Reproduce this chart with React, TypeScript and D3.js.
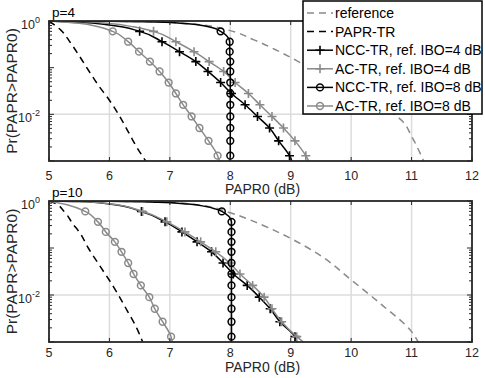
import * as d3 from "d3";

// probability levels where the simulated curves carry markers
const LEVELS = [0.6, 0.36, 0.22, 0.135, 0.083, 0.048, 0.028, 0.016, 0.009, 0.0051, 0.0027, 0.0013];
const X_TICKS = [5, 6, 7, 8, 9, 10, 11, 12];
const Y_LABELLED = [1, 0.01];
const Y_DECADES = [1, 0.1, 0.01, 0.001];
const LEGEND_NAMES = [
  "reference",
  "PAPR-TR",
  "NCC-TR, ref. IBO=4 dB",
  "AC-TR, ref. IBO=4 dB",
  "NCC-TR, ref. IBO=8 dB",
  "AC-TR, ref. IBO=8 dB",
];

// ---- p = 4 ----
const p4RefX = [5, 6, 7, 7.5, 7.94, 8.38, 8.77, 9.21, 9.7, 10.2, 10.6, 10.85, 11.0, 11.2];
const p4RefP = [1, 0.99, 0.93, 0.83, 0.65, 0.4, 0.235, 0.118, 0.054, 0.025, 0.0126, 0.0071, 0.0034, 0.001];
const p4TrX = [5, 5.2, 5.35, 5.5, 5.65, 5.8, 6.0, 6.15, 6.3, 6.45, 6.6];
const p4TrP = [1, 0.63, 0.35, 0.18, 0.089, 0.045, 0.02, 0.01, 0.0045, 0.002, 0.001];
const p4Ncc4LeadX = [5, 5.5, 6.0];
const p4Ncc4LeadP = [1, 0.94, 0.82];
const p4Ncc4X = [6.5, 6.87, 7.16, 7.43, 7.63, 7.84, 8.02, 8.245, 8.45, 8.65, 8.8, 8.98];
const p4Ncc4Tail = 9.02;
const p4Ac4LeadX = [5, 5.5, 6.0, 6.4];
const p4Ac4LeadP = [1, 0.97, 0.88, 0.75];
const p4Ac4X = [6.73, 7.1, 7.4, 7.65, 7.89, 8.08, 8.3, 8.49, 8.69, 8.88, 9.07, 9.25];
const p4Ac4Tail = 9.3;
const p4Ncc8LeadX = [5, 6, 6.8, 7.3, 7.6, 7.75];
const p4Ncc8LeadP = [1, 0.99, 0.95, 0.87, 0.77, 0.69];
const p4Ncc8X = [7.84, 7.99, 7.99, 8.0, 8.0, 8.0, 8.0, 8.0, 8.0, 8.0, 8.0, 8.0];
const p4Ncc8Tail = 8.0;
const p4Ac8LeadX = [5, 5.5, 5.8];
const p4Ac8LeadP = [1, 0.89, 0.76];
const p4Ac8X = [6.055, 6.31, 6.49, 6.67, 6.83, 6.98, 7.1, 7.22, 7.36, 7.49, 7.64, 7.79];
const p4Ac8Tail = 7.82;

// ---- p = 10 ----
const p10RefX = [5, 6, 7, 7.5, 8, 8.5, 9, 9.5, 10, 10.5, 11, 11.11];
const p10RefP = [1, 0.99, 0.93, 0.81, 0.56, 0.32, 0.16, 0.068, 0.021, 0.0063, 0.00166, 0.001];
const p10TrX = [5, 5.1, 5.25, 5.4, 5.5, 5.65, 5.85, 6.06, 6.3, 6.45, 6.55];
const p10TrP = [1, 0.89, 0.6, 0.32, 0.22, 0.1, 0.04, 0.0155, 0.0045, 0.002, 0.001];
const p10Ncc4LeadX = [5, 5.5, 6.0];
const p10Ncc4LeadP = [1, 0.97, 0.86];
const p10Ncc4X = [6.53, 6.92, 7.2, 7.45, 7.69, 7.88, 8.05, 8.28, 8.48, 8.66, 8.82, 9.07];
const p10Ncc4Tail = 9.1;
const p10Ac4LeadX = [5, 5.5, 6.0];
const p10Ac4LeadP = [1, 0.97, 0.87];
const p10Ac4X = [6.55, 6.95, 7.25, 7.51, 7.76, 7.99, 8.16, 8.37, 8.56, 8.69, 8.85, 9.1];
const p10Ac4Tail = 9.21;
const p10Ncc8LeadX = [5, 6, 6.8, 7.3, 7.6, 7.75];
const p10Ncc8LeadP = [1, 0.99, 0.94, 0.86, 0.76, 0.68];
const p10Ncc8X = [7.86, 8.02, 8.02, 8.02, 8.02, 8.02, 8.02, 8.02, 8.02, 8.02, 8.02, 8.02];
const p10Ncc8Tail = 8.02;
const p10Ac8LeadX = [5, 5.3];
const p10Ac8LeadP = [1, 0.83];
const p10Ac8X = [5.6, 5.81, 5.94, 6.09, 6.2, 6.31, 6.4, 6.52, 6.66, 6.75, 6.88, 7.02];
const p10Ac8Tail = 7.04;

const GRAY = "#8a8a8a";
const AXIS = "#262626";
const FONT = "'Liberation Sans', Arial, Helvetica, sans-serif";

const STYLES = [
  { color: GRAY, dash: "7,5", marker: "" },
  { color: "#000", dash: "7,5", marker: "" },
  { color: "#000", dash: "", marker: "plus" },
  { color: GRAY, dash: "", marker: "plus" },
  { color: "#000", dash: "", marker: "circle" },
  { color: GRAY, dash: "", marker: "circle" },
];

type Pt = [number, number];
type Series = { pts: Pt[]; from: number; to: number };

const plain = (xs: number[], ps: number[]): Series => ({
  pts: xs.map((x, i) => [x, ps[i]] as Pt),
  from: 0,
  to: 0,
});

const marked = (leadX: number[], leadP: number[], markX: number[], tail: number): Series => {
  const pts: Pt[] = [
    ...leadX.map((x, i) => [x, leadP[i]] as Pt),
    ...markX.map((x, i) => [x, LEVELS[i]] as Pt),
    [tail, 0.001],
  ];
  return { pts, from: leadX.length, to: leadX.length + markX.length };
};

const p4Series = [
  plain(p4RefX, p4RefP),
  plain(p4TrX, p4TrP),
  marked(p4Ncc4LeadX, p4Ncc4LeadP, p4Ncc4X, p4Ncc4Tail),
  marked(p4Ac4LeadX, p4Ac4LeadP, p4Ac4X, p4Ac4Tail),
  marked(p4Ncc8LeadX, p4Ncc8LeadP, p4Ncc8X, p4Ncc8Tail),
  marked(p4Ac8LeadX, p4Ac8LeadP, p4Ac8X, p4Ac8Tail),
];

const p10Series = [
  plain(p10RefX, p10RefP),
  plain(p10TrX, p10TrP),
  marked(p10Ncc4LeadX, p10Ncc4LeadP, p10Ncc4X, p10Ncc4Tail),
  marked(p10Ac4LeadX, p10Ac4LeadP, p10Ac4X, p10Ac4Tail),
  marked(p10Ncc8LeadX, p10Ncc8LeadP, p10Ncc8X, p10Ncc8Tail),
  marked(p10Ac8LeadX, p10Ac8LeadP, p10Ac8X, p10Ac8Tail),
];

const Marker = ({ kind, x, y, color }: { kind: string; x: number; y: number; color: string }) => {
  if (kind === "plus")
    return <path d={`M${x - 4.5},${y}H${x + 4.5}M${x},${y - 4.5}V${y + 4.5}`} stroke={color} strokeWidth={1.6} />;
  if (kind === "circle")
    return <circle cx={x} cy={y} r={3.4} fill="none" stroke={color} strokeWidth={1.5} />;
  return null;
};

const LEFT = 49;
const RIGHT = 472;

function Panel(props: {
  id: string;
  top: number;
  bottom: number;
  title: string;
  series: Series[];
  tickBase: number;
  labelBase: number;
}) {
  const { id, top, bottom, title, series, tickBase, labelBase } = props;
  const x = d3.scaleLinear().domain([5, 12]).range([LEFT, RIGHT]);
  const y = d3.scaleLog().domain([1e-3, 1]).range([bottom, top]);
  const line = d3
    .line<Pt>()
    .x((d) => x(d[0]))
    .y((d) => y(d[1]))
    .curve(d3.curveMonotoneY);

  const minors: number[] = [];
  [-3, -2, -1].forEach((e) => {
    for (let k = 2; k <= 9; k++) minors.push(k * Math.pow(10, e));
  });

  return (
    <g>
      <defs>
        <clipPath id={id}>
          <rect x={LEFT} y={top} width={RIGHT - LEFT} height={bottom - top} />
        </clipPath>
      </defs>
      {X_TICKS.slice(1, -1).map((t) => (
        <line key={"gx" + t} x1={x(t)} x2={x(t)} y1={top} y2={bottom} stroke="#dcdcdc" strokeWidth={1.5} />
      ))}
      <line x1={LEFT} x2={RIGHT} y1={y(0.01)} y2={y(0.01)} stroke="#dcdcdc" strokeWidth={1.5} />

      <g clipPath={`url(#${id})`}>
        {series.map((s, i) => (
          <g key={"s" + i}>
            <path
              d={line(s.pts) || ""}
              fill="none"
              stroke={STYLES[i].color}
              strokeWidth={1.5}
              strokeDasharray={STYLES[i].dash || undefined}
            />
            {s.pts.slice(s.from, s.to).map((d, j) => (
              <Marker key={j} kind={STYLES[i].marker} x={x(d[0])} y={y(d[1])} color={STYLES[i].color} />
            ))}
          </g>
        ))}
      </g>

      <rect x={LEFT} y={top} width={RIGHT - LEFT} height={bottom - top} fill="none" stroke={AXIS} strokeWidth={1.8} />
      {X_TICKS.map((t) => (
        <g key={"tx" + t}>
          <line x1={x(t)} x2={x(t)} y1={bottom} y2={bottom - 4} stroke={AXIS} strokeWidth={1} />
          <line x1={x(t)} x2={x(t)} y1={top} y2={top + 4} stroke={AXIS} strokeWidth={1} />
          <text x={x(t)} y={tickBase} textAnchor="middle" fontSize={12.5} fill={AXIS}>
            {t}
          </text>
        </g>
      ))}
      {Y_DECADES.map((t) => (
        <g key={"ty" + t}>
          <line x1={LEFT} x2={LEFT + 5} y1={y(t)} y2={y(t)} stroke={AXIS} strokeWidth={1} />
          <line x1={RIGHT} x2={RIGHT - 5} y1={y(t)} y2={y(t)} stroke={AXIS} strokeWidth={1} />
        </g>
      ))}
      {minors.map((t) => (
        <g key={"my" + t}>
          <line x1={LEFT} x2={LEFT + 3} y1={y(t)} y2={y(t)} stroke={AXIS} strokeWidth={1} />
          <line x1={RIGHT} x2={RIGHT - 3} y1={y(t)} y2={y(t)} stroke={AXIS} strokeWidth={1} />
        </g>
      ))}
      {Y_LABELLED.map((t) => (
        <text key={"ly" + t} x={40} y={y(t) + 8} textAnchor="end" fontSize={12.5} fill={AXIS}>
          10
          <tspan dy={-6.5} fontSize={9}>
            {String(Math.round(Math.log10(t)))}
          </tspan>
        </text>
      ))}
      <text x={52} y={top - 4} fontSize={13.5} fill="#000">
        {title}
      </text>
      <text x={(LEFT + RIGHT) / 2 + 2} y={labelBase} textAnchor="middle" fontSize={14} fill={AXIS}>
        PAPR0 (dB)
      </text>
      <text
        transform={`translate(17,${(top + bottom) / 2}) rotate(-90)`}
        textAnchor="middle"
        fontSize={15.5}
        fill={AXIS}
      >
        Pr(PAPR&gt;PAPR0)
      </text>
    </g>
  );
}

function Legend() {
  const x0 = 303;
  const y0 = 1;
  const step = 18.6;
  return (
    <g>
      <rect x={x0} y={y0} width={179} height={113} fill="#fff" stroke="#000" strokeWidth={1.5} />
      {LEGEND_NAMES.map((name, i) => {
        const cy = 13 + i * step;
        const st = STYLES[i];
        return (
          <g key={name}>
            <line
              x1={307}
              x2={333}
              y1={cy}
              y2={cy}
              stroke={st.color}
              strokeWidth={1.5}
              strokeDasharray={st.dash || undefined}
            />
            <Marker kind={st.marker} x={320} y={cy} color={st.color} />
            <text x={335} y={cy + 5} fontSize={14} fill="#000">
              {name}
            </text>
          </g>
        );
      })}
    </g>
  );
}

export default function App() {
  return (
    <svg
      width={485}
      height={378}
      style={{ position: "absolute", left: 0, top: 0, background: "#fff" }}
      fontFamily={FONT}
    >
      <rect width={485} height={378} fill="#fff" />
      <Panel id="clip-p4" top={21} bottom={161} title="p=4" series={p4Series} tickBase={180} labelBase={194} />
      <Panel id="clip-p10" top={201} bottom={342} title="p=10" series={p10Series} tickBase={357} labelBase={372} />
      <Legend />
    </svg>
  );
}
